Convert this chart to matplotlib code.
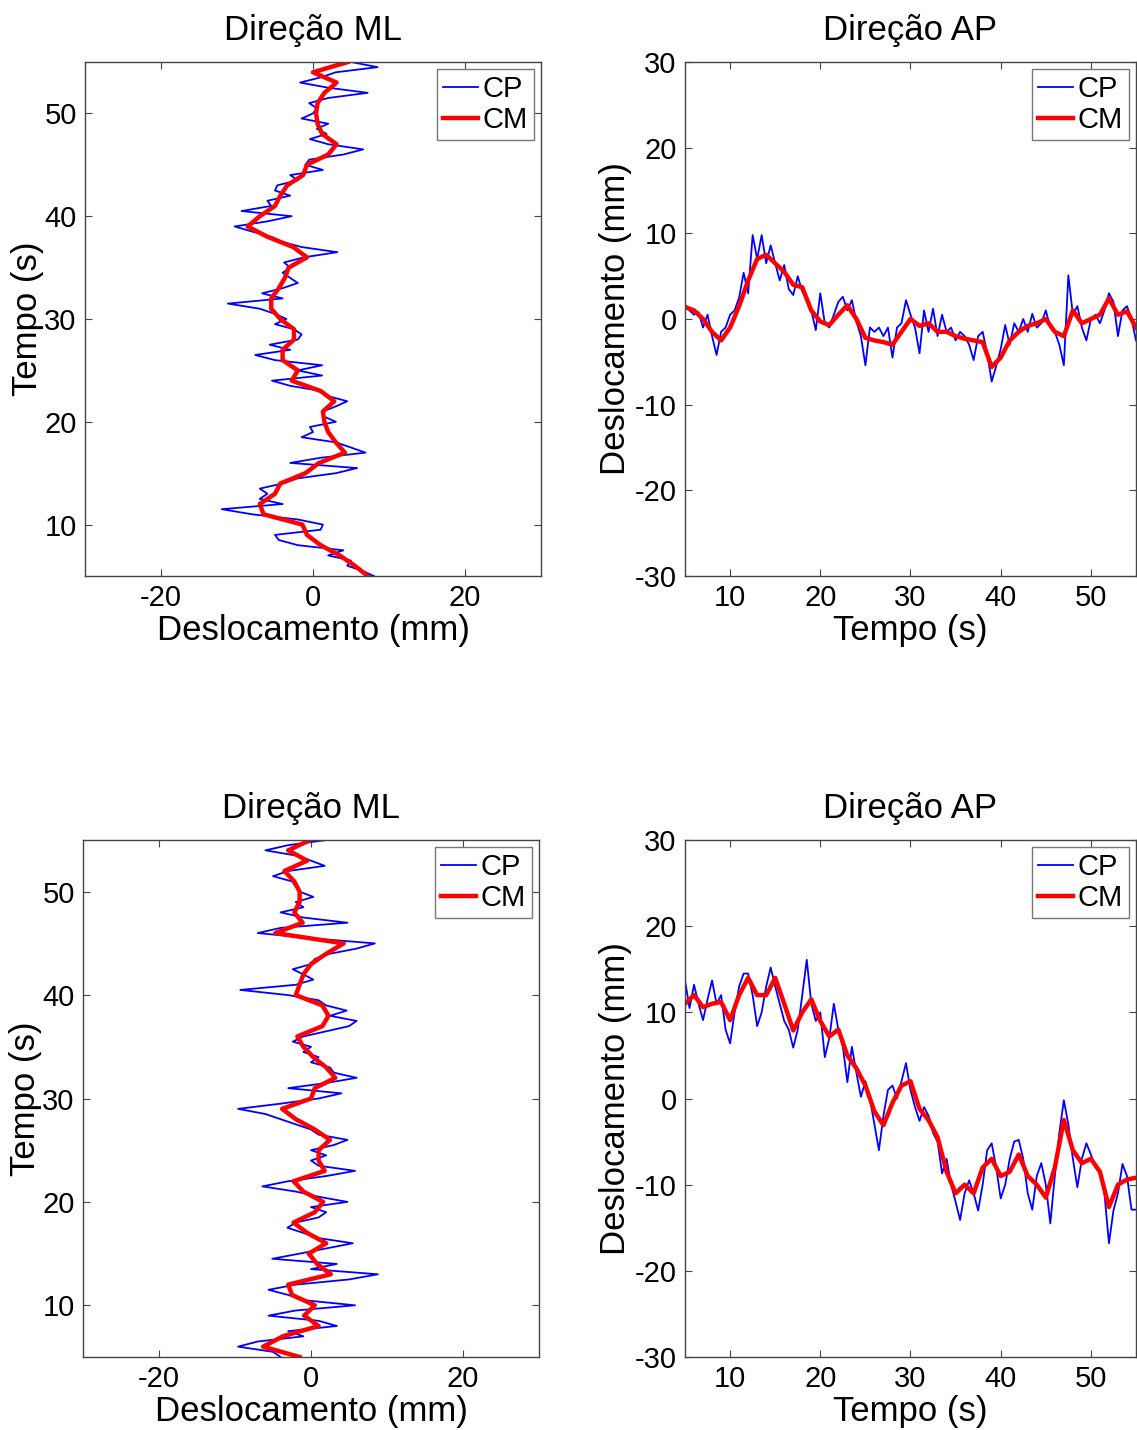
import numpy as np
import matplotlib
matplotlib.use("Agg")
import matplotlib.pyplot as plt

plt.rcParams["font.family"] = ["Liberation Sans", "DejaVu Sans"]
plt.rcParams["axes.unicode_minus"] = False

# time grids (s)
t_cp = np.arange(5.0, 55.01, 0.5)
t_cm = np.arange(5.0, 55.01, 1.0)

# --- trial 1 ---
ml1_cp = [8, 6.5, 4.5, 5, 2, 4, -2, -4.5, -5, 1, 1.3, -2, -8, -12, -4, -7, -6, -7, -4, -2,
          3, 5.8, -3, 1, 6.9, 5, 3, -1.5, 0, -0.4, 3, 1.5, 1.3, 3, 4.5, 2, 1, -3, -5.4, 1.2,
          -2, 1.2, -5, -7.6, -3, -5.7, -2, -1.5, -2.5, -5, -3.5, -5, -7, -11.2, -4, -6.7, -4, -2, -3, -4,
          -3, -3.8, -1.2, 3.2, -1.5, -4, -5.5, -8, -10.3, -6, -2.8, -9.4, -5.5, -6, -3, -5, -4.7, -2, -3, 1.3,
          -1, -0.5, 4, 6.6, 2, -0.4, 1.8, 0.5, 2, -1.5, 0, 0.5, -0.5, 2, 7.2, 2, -1.7, 1, 3, 8.5, 5]
ml1_cm = [7.2, 5.5, 3.5, 1, -0.8, -1.4, -6.5, -7, -5, -4.3, -1, 0.8, 4.2, 3, 2, 1.5, 1.3, 2.8, 1, -2.8,
          -2, -4, -4, -2.5, -2.5, -4.3, -5.5, -5.5, -4.5, -3.7, -3.2, -0.8, -2.6, -6, -8.6, -7, -5, -4.3, -3.4, -1.3,
          -0.8, 2, 3.1, 1.2, 0.6, 0.4, 0.6, 1.5, 3.1, 0, 4.6]
ap1_cp = [1.7, 1, 0.5, 0.8, -1, 0.5, -2, -4.2, -1.5, -1, 0.5, 1, 2.5, 5.4, 3, 9.8, 7, 9.8, 6.5, 8.6,
          6.5, 4.5, 6.3, 3.5, 2.8, 5, 3.2, 2.5, 1, -1.3, 3, -0.5, -1, 0.5, 2, 2.6, 1, 2.2, -0.3, -2,
          -5.4, -1, -1.5, -1, -2, -1, -4.5, -1, -0.5, 2.2, 0.5, -1, -4, 1, -1.5, 1.2, -2, 0.5, -1.5, -1,
          -2.5, -1.5, -2, -3, -4.8, -2, -1.5, -4, -7.3, -5.5, -3.5, -0.7, -3, -0.5, -1.5, 0, -1.5, 0.6, -1, -0.5,
          1, -1, -1.5, -3, -5.4, 5.1, 0.5, 1.5, -1, -2.5, 0, 0.5, -0.5, 1, 3, 2, -2, 1, 1.5, 0, -2.5]
ap1_cm = [1.4, 1, 0, -1.5, -2.5, -1, 1.5, 4.5, 7, 7.5, 6.5, 5.5, 4, 3.7, 1, -0.3, -0.7, 0.5, 1.6, 0,
          -2.2, -2.5, -2.7, -3, -1.5, 0, -0.8, -0.5, -1.5, -1.5, -2, -2.3, -2.5, -2.7, -5.6, -4.5, -2.5, -1.5, -0.8, -0.5,
          0, -1.5, -2, 1, -0.5, 0, 0.5, 2.4, 0.5, 0.9, -1]

# --- trial 2 ---
ml2_cp = [-4, -5, -9.6, -7, -1, -3, 3.4, 1, -5.6, -2, 5.8, -1, -3, -5.6, -2, 5, 8.8, 0, 3.4, -5.1,
          -1.5, 2, 5.5, 1, -1, -3.1, -2, 1, 2, 0, 4.8, 1, -2, -6.4, -3, 2, 5.8, 1, 0, 2,
          0, 3, 4.8, 1, 0, -2, -4, -6, -9.6, -4, 1, 4, -3, 2, 6, 3, 2.5, 0, 1, -1,
          0, -2.4, -1, 2, 5, 6, 2.5, 4.7, 2, 1, -3, -9.3, -2, 0.3, -1, -2.4, 0, 0.5, 2.5, 6,
          8.4, 0, -7, -4, 4.8, -1, -4, -1, -2, 0.3, -1.5, -2, -2.5, -5, -3, 1.8, 0, -2, -6, -3, 2]
ml2_cm = [-1.5, -6.3, -3.7, 1, -0.9, 0.5, -2.5, -3, 2.6, 0.8, -0.3, 2, -0.5, -2.3, 0.5, 1.6, -1, -2.3, 1.8, 1,
          1, 2.5, 0.5, -2, -3.8, 0, 0.5, 3.2, 2, 0.3, -1, -1.8, 1.5, 2.3, 1.5, -2, -1.5, -1, 0, 2,
          4.3, -4.7, -1.1, -2.2, -1.5, -1.5, -2.2, -3.5, -0.5, -3, -0.1]
ap2_cp = [13.7, 10.5, 13.2, 11, 9.1, 11.5, 13.7, 11, 12, 8, 6.4, 10, 13, 14.5, 14.5, 12, 8.4, 10, 13, 15.2,
          13, 11, 9, 8, 5.9, 8, 12, 16.1, 11, 9, 10, 4.8, 7, 11, 8, 6, 1.9, 6, 3, 0.2,
          2, 0, -3, -6, -2, 1, 1.5, 0, 2, 4.1, 1, -1, -2.6, -1, -2, -4, -5, -8.7, -7, -10,
          -12, -14.1, -11, -9.5, -11, -13, -10, -6, -5.2, -8, -11.6, -10, -7, -5, -4.8, -7, -11, -12.9, -9, -7.5,
          -10, -14.5, -9, -4, -0.2, -3, -7, -10.3, -7, -5.2, -6.5, -8, -8.5, -11, -16.8, -13, -11, -7.6, -9, -12.9, -12.9]
ap2_cm = [11, 12, 10.6, 11, 11.2, 9.1, 12, 14, 12, 12, 14, 11, 7.9, 10, 11.5, 9, 7.2, 8, 5, 3.5,
          1.5, -1.5, -3.1, -0.5, 1.5, 2, -1.2, -2.5, -4.5, -8.5, -11, -10, -11, -8, -7, -9, -8.5, -6.5, -9, -10,
          -11.5, -8, -2.5, -6, -7.5, -7, -8.5, -12.6, -10, -9.4, -9.2]

W, H = 1137, 1430
TITLE_FS = 25
LABEL_FS = 25
TICK_FS = 21
LEGEND_FS = 21


def style_axes(ax):
    ax.tick_params(direction="in", top=True, right=True, length=5, width=0.8,
                   labelsize=TICK_FS, pad=6, color="#444444")
    for s in ax.spines.values():
        s.set_color("#444444")
        s.set_linewidth(1.0)


def add_legend(ax):
    leg = ax.legend(loc="upper right", fontsize=LEGEND_FS, handlelength=1.2,
                    handletextpad=0.15, borderpad=0.2, borderaxespad=0.25,
                    labelspacing=0.1, fancybox=False, framealpha=1)
    leg.get_frame().set_edgecolor("#777777")
    leg.get_frame().set_linewidth(1.0)


def draw_ml(rect, cp, cm):
    ax = fig.add_axes(rect)
    ax.plot(cp, t_cp, color="#0000ff", lw=1.3, label="CP")
    ax.plot(cm, t_cm, color="#ff0000", lw=3.2, label="CM")
    ax.set_xlim(-30, 30)
    ax.set_ylim(5, 55)
    ax.set_xticks([-20, 0, 20])
    ax.set_yticks([10, 20, 30, 40, 50])
    ax.set_title("Direção ML", fontsize=TITLE_FS, pad=16)
    ax.set_xlabel("Deslocamento (mm)", fontsize=LABEL_FS, labelpad=1)
    ax.set_ylabel("Tempo (s)", fontsize=LABEL_FS, labelpad=0)
    style_axes(ax)
    add_legend(ax)
    return ax


def draw_ap(rect, cp, cm):
    ax = fig.add_axes(rect)
    ax.plot(t_cp, cp, color="#0000ff", lw=1.3, label="CP")
    ax.plot(t_cm, cm, color="#ff0000", lw=3.2, label="CM")
    ax.set_xlim(5, 55)
    ax.set_ylim(-30, 30)
    ax.set_xticks([10, 20, 30, 40, 50])
    ax.set_yticks([-30, -20, -10, 0, 10, 20, 30])
    ax.set_title("Direção AP", fontsize=TITLE_FS, pad=16)
    ax.set_xlabel("Tempo (s)", fontsize=LABEL_FS, labelpad=1)
    ax.set_ylabel("Deslocamento (mm)", fontsize=LABEL_FS, labelpad=2)
    style_axes(ax)
    add_legend(ax)
    return ax


fig = plt.figure(figsize=(W / 100, H / 100), dpi=100)

draw_ml([85 / W, 1 - 576 / H, 456 / W, 514 / H], ml1_cp, ml1_cm)
draw_ap([685 / W, 1 - 576 / H, 451 / W, 514 / H], ap1_cp, ap1_cm)
draw_ml([83 / W, 1 - 1357 / H, 456 / W, 517 / H], ml2_cp, ml2_cm)
draw_ap([685 / W, 1 - 1357 / H, 451 / W, 517 / H], ap2_cp, ap2_cm)

fig.savefig("out.png", dpi=100)
